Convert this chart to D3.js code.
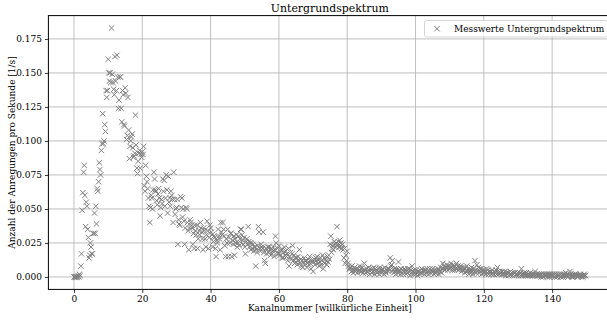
<!DOCTYPE html>
<html><head><meta charset="utf-8">
<script src="https://cdn.jsdelivr.net/npm/d3@7"></script>
<style>
html,body{margin:0;padding:0;background:#fff;}
svg{display:block;font-family:"DejaVu Serif",serif;}
</style></head>
<body><svg id="c" width="607" height="322"></svg>
<script>
// Channel step between measured points (channels 0 .. 149.8)
const channelStep = 0.2;
// Count rates [1/s], 5 points per channel
const rateCh0to19 = [
0,0,0,0,0, 0,0.001,0,0.002,0.001, 0.008,0.017,0.049,0.062,0.077, 0.082,0.060,0.037,0.055,0.052,
0.035,0.029,0.014,0.016,0.025, 0.022,0.017,0.017,0.032,0.032, 0.047,0.032,0.052,0.039,0.065, 0.063,0.070,0.084,0.079,0.075,
0.093,0.098,0.120,0.098,0.100, 0.112,0.107,0.137,0.132,0.137, 0.160,0.150,0.144,0.150,0.143, 0.183,0.149,0.143,0.138,0.134,
0.162,0.144,0.137,0.163,0.147, 0.124,0.130,0.147,0.147,0.124, 0.114,0.137,0.134,0.112,0.111, 0.139,0.135,0.101,0.104,0.132,
0.108,0.087,0.096,0.100,0.103, 0.105,0.095,0.088,0.089,0.091, 0.119,0.097,0.080,0.076,0.085, 0.091,0.093,0.080,0.090,0.088];
const rateCh20to44 = [
0.092,0.090,0.096,0.067,0.063, 0.082,0.074,0.070,0.065,0.058, 0.052,0.040,0.051,0.060,0.058, 0.050,0.064,0.077,0.072,0.064,
0.063,0.056,0.053,0.061,0.065, 0.058,0.045,0.051,0.057,0.054, 0.072,0.063,0.071,0.052,0.058, 0.075,0.064,0.047,0.074,0.055,
0.058,0.052,0.063,0.060,0.057, 0.040,0.077,0.057,0.046,0.050, 0.051,0.057,0.024,0.042,0.039, 0.038,0.059,0.051,0.058,0.044,
0.050,0.041,0.024,0.036,0.051, 0.050,0.040,0.034,0.020,0.036, 0.042,0.040,0.038,0.036,0.024, 0.032,0.021,0.038,0.034,0.031,
0.038,0.021,0.028,0.034,0.031, 0.040,0.036,0.033,0.028,0.020, 0.036,0.034,0.028,0.022,0.031, 0.041,0.034,0.021,0.029,0.038,
0.036,0.033,0.031,0.022,0.026, 0.030,0.029,0.021,0.015,0.027, 0.025,0.035,0.030,0.028,0.020, 0.040,0.033,0.031,0.040,0.035,
0.030,0.023,0.015,0.028,0.025];
const rateCh45to80 = [
0.035,0.015,0.029,0.025,0.032, 0.032,0.015,0.027,0.024,0.030, 0.016,0.028,0.025,0.031,0.022, 0.025,0.030,0.023,0.028,0.035,
0.035,0.031,0.027,0.024,0.029, 0.022,0.017,0.026,0.028,0.024, 0.037,0.026,0.022,0.025,0.020, 0.025,0.021,0.024,0.019,0.022,
0.022,0.008,0.020,0.018,0.023, 0.037,0.033,0.021,0.019,0.024, 0.022,0.021,0.033,0.018,0.012, 0.010,0.021,0.017,0.020,0.022,
0.018,0.022,0.020,0.016,0.021, 0.017,0.019,0.022,0.015,0.020, 0.030,0.025,0.018,0.021,0.017, 0.023,0.017,0.016,0.020,0.014,
0.020,0.014,0.018,0.022,0.016, 0.019,0.015,0.017,0.012,0.021, 0.008,0.015,0.018,0.013,0.017, 0.023,0.012,0.016,0.010,0.014,
0.011,0.014,0.009,0.015,0.012, 0.020,0.010,0.013,0.008,0.012, 0.007,0.011,0.014,0.009,0.012, 0.012,0.007,0.010,0.013,0.009,
0.015,0.010,0.006,0.012,0.011, 0.004,0.011,0.013,0.009,0.014, 0.012,0.015,0.010,0.013,0.008, 0.011,0.014,0.009,0.012,0.016,
0.006,0.014,0.010,0.013,0.012, 0.009,0.015,0.011,0.016,0.013, 0.024,0.030,0.018,0.021,0.023, 0.020,0.026,0.024,0.022,0.025,
0.037,0.024,0.026,0.022,0.027, 0.022,0.025,0.021,0.024,0.020, 0.014,0.021,0.010,0.016,0.012, 0.019,0.010,0.008,0.006,0.007];
const rateCh81to149 = [
0.006,0.004,0.008,0.005,0.003, 0.005,0.007,0.004,0.006,0.005, 0.003,0.006,0.005,0.008,0.004, 0.006,0.004,0.007,0.003,0.005,
0.010,0.005,0.003,0.006,0.004, 0.004,0.007,0.005,0.002,0.006, 0.005,0.003,0.006,0.004,0.007, 0.002,0.006,0.004,0.005,0.003,
0.006,0.004,0.002,0.007,0.005, 0.003,0.005,0.006,0.004,0.002, 0.007,0.004,0.003,0.005,0.006, 0.004,0.006,0.005,0.014,0.008,
0.009,0.012,0.005,0.003,0.006, 0.004,0.002,0.006,0.005,0.003, 0.011,0.005,0.004,0.002,0.006, 0.003,0.005,0.002,0.004,0.006,
0.005,0.002,0.004,0.003,0.006, 0.004,0.006,0.001,0.005,0.003, 0.008,0.004,0.002,0.005,0.003, 0.002,0.005,0.003,0.001,0.004,
0.004,0.002,0.005,0.003,0.006, 0.003,0.005,0.004,0.002,0.005, 0.005,0.003,0.006,0.004,0.002, 0.004,0.006,0.003,0.005,0.004,
0.006,0.004,0.002,0.005,0.003, 0.003,0.005,0.004,0.006,0.002, 0.005,0.004,0.007,0.003,0.006, 0.010,0.006,0.008,0.005,0.007,
0.007,0.009,0.005,0.008,0.006, 0.008,0.006,0.010,0.007,0.005, 0.009,0.007,0.005,0.008,0.006, 0.010,0.006,0.008,0.005,0.007,
0.006,0.008,0.004,0.007,0.005, 0.005,0.007,0.003,0.006,0.004, 0.008,0.004,0.006,0.002,0.005, 0.003,0.005,0.007,0.004,0.002,
0.006,0.004,0.012,0.005,0.003, 0.009,0.005,0.007,0.003,0.006, 0.004,0.006,0.002,0.005,0.003, 0.005,0.003,0.004,0.002,0.006,
0.003,0.005,0.002,0.004,0.003, 0.004,0.002,0.005,0.003,0.002, 0.002,0.004,0.003,0.005,0.002, 0.007,0.003,0.002,0.004,0.003,
0.003,0.002,0.004,0.002,0.003, 0.002,0.004,0.001,0.003,0.002, 0.003,0.001,0.003,0.002,0.004, 0.002,0.003,0.001,0.002,0.003,
0.001,0.003,0.002,0.001,0.002, 0.003,0.001,0.002,0.003,0.001, 0.006,0.002,0.001,0.002,0.003, 0.002,0.001,0.003,0.001,0.002,
0.001,0.002,0.001,0.003,0.001, 0.002,0.001,0.002,0.001,0.002, 0.004,0.001,0.002,0.001,0.001, 0.001,0.002,0.001,0.002,0.000,
0.002,0.001,0.000,0.002,0.001, 0.001,0.002,0.001,0.000,0.002, 0.001,0.000,0.002,0.001,0.001, 0.002,0.001,0.001,0.002,0.000,
0.001,0.002,0.000,0.001,0.002, 0.001,0.001,0.002,0.000,0.001, 0.002,0.000,0.001,0.002,0.001, 0.003,0.001,0.001,0.000,0.002,
0.001,0.004,0.002,0.001,0.000, 0.001,0.000,0.001,0.002,0.001, 0.002,0.001,0.000,0.001,0.001, 0.001,0.002,0.001,0.000,0.001,
0.000,0.001,0.002,0.001,0.001];
const xTicks = [0,20,40,60,80,100,120,140];
const yTicks = [0,0.025,0.05,0.075,0.1,0.125,0.15,0.175];
const title = "Untergrundspektrum";
const xLabel = "Kanalnummer [willkürliche Einheit]";
const yLabel = "Anzahl der Anregungen pro Sekunde [1/s]";
const legendLabel = "Messwerte Untergrundspektrum";

const rates = [].concat(rateCh0to19, rateCh20to44, rateCh45to80, rateCh81to149);
const data = rates.map((r,i)=>({ch: i*channelStep, r}));

const W=607, H=322;
const L=48.4, R=611.2, T=15.6, B=289.4;
const xExt = d3.extent(data,d=>d.ch), yExt = d3.extent(data,d=>d.r);
const xm = (xExt[1]-xExt[0])*0.05, ym=(yExt[1]-yExt[0])*0.05;
const x = d3.scaleLinear().domain([xExt[0]-xm, xExt[1]+xm]).range([L,R]);
const y = d3.scaleLinear().domain([yExt[0]-ym, yExt[1]+ym]).range([B,T]);

const svg = d3.select("#c");
const FS = 9.0;
const col = "#808080";

// grid
svg.append("g").selectAll("line").data(xTicks).join("line")
  .attr("x1",d=>x(d)).attr("x2",d=>x(d)).attr("y1",T).attr("y2",B)
  .attr("stroke","#b0b0b0").attr("stroke-width",0.8);
svg.append("g").selectAll("line").data(yTicks).join("line")
  .attr("x1",L).attr("x2",R).attr("y1",d=>y(d)).attr("y2",d=>y(d))
  .attr("stroke","#b0b0b0").attr("stroke-width",0.8);

// points
const s=2.7;
svg.append("g").selectAll("path").data(data).join("path")
  .attr("d",d=>{const px=x(d.ch), py=y(d.r);
    return `M${px-s},${py-s}L${px+s},${py+s}M${px-s},${py+s}L${px+s},${py-s}`;})
  .attr("stroke",col).attr("stroke-width",1).attr("fill","none");

// axes
const xa = svg.append("g").attr("transform",`translate(0,${B})`)
  .call(d3.axisBottom(x).tickValues(xTicks).tickFormat(d3.format("d")).tickSize(3.5).tickPadding(3));
const ya = svg.append("g").attr("transform",`translate(${L},0)`)
  .call(d3.axisLeft(y).tickValues(yTicks).tickFormat(d3.format(".3f")).tickSize(3.5).tickPadding(3));
[xa,ya].forEach(a=>{a.select(".domain").remove();
  a.selectAll("text").attr("font-size",FS).attr("font-family","DejaVu Serif").attr("fill","#000");
  a.selectAll("line").attr("stroke","#000").attr("stroke-width",0.8);});

// frame
svg.append("rect").attr("x",L).attr("y",T).attr("width",R-L).attr("height",B-T)
  .attr("fill","none").attr("stroke","#000").attr("stroke-width",1);

// title and labels
svg.append("text").attr("x",(L+R)/2).attr("y",T-4).attr("text-anchor","middle")
  .attr("font-size",10.9).text(title);
svg.append("text").attr("x",(L+R)/2).attr("y",311).attr("text-anchor","middle")
  .attr("font-size",FS).text(xLabel);
svg.append("text").attr("transform",`translate(14.5,${(T+B)/2}) rotate(-90)`).attr("text-anchor","middle")
  .attr("font-size",FS).text(yLabel);

// legend
const lg = svg.append("g");
lg.append("rect").attr("x",424.5).attr("y",20.5).attr("width",183).attr("height",16.5).attr("rx",2)
  .attr("fill","#fff").attr("fill-opacity",0.8).attr("stroke","#cccccc").attr("stroke-width",0.8);
const mx=437, my=28.7;
lg.append("path").attr("d",`M${mx-s},${my-s}L${mx+s},${my+s}M${mx-s},${my+s}L${mx+s},${my-s}`)
  .attr("stroke",col).attr("stroke-width",1);
lg.append("text").attr("x",454).attr("y",31.9).attr("font-size",FS).text(legendLabel);
</script></body></html>
